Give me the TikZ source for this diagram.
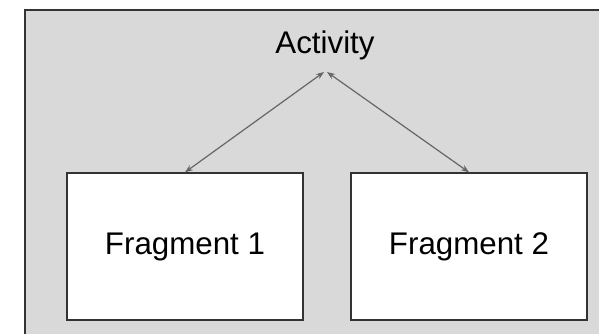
\documentclass[tikz,border=0pt]{standalone}
\usepackage{fontspec}
\setmainfont{Liberation Sans}
\usetikzlibrary{arrows.meta}
\definecolor{bggray}{HTML}{D9D9D9}
\definecolor{edge}{HTML}{333333}
\definecolor{arr}{HTML}{666666}
\tikzset{
  frag/.style={draw=edge, line width=1.4pt, fill=white, minimum width=236pt, minimum height=147pt, inner sep=0pt, font=\fontsize{31.3}{36}\selectfont},
  link/.style={draw=arr, line width=1.2pt, {Stealth[length=8pt,width=6pt]}-{Stealth[length=8pt,width=6pt]}}
}
\begin{document}
\begin{tikzpicture}[x=1pt,y=-1pt]
\useasboundingbox (0,0) rectangle (599,334);
\fill[white] (0,0) rectangle (599,334);
\begin{scope}
\clip (0,0) rectangle (599,334);
\draw[edge, line width=2pt, fill=bggray] (25,10) rectangle (620,350);
\end{scope}
\node[inner sep=0pt, font=\fontsize{31.3}{36}\selectfont] (act) at (325,45) {Activity};
\node[frag] (f1) at (185,246.5) {Fragment 1};
\node[frag] (f2) at (469,246.5) {Fragment 2};
\coordinate (a1) at (324,72);
\coordinate (a2) at (327,72);
\draw[link] (a1) -- (f1.north);
\draw[link] (a2) -- (f2.north);
\end{tikzpicture}
\end{document}
